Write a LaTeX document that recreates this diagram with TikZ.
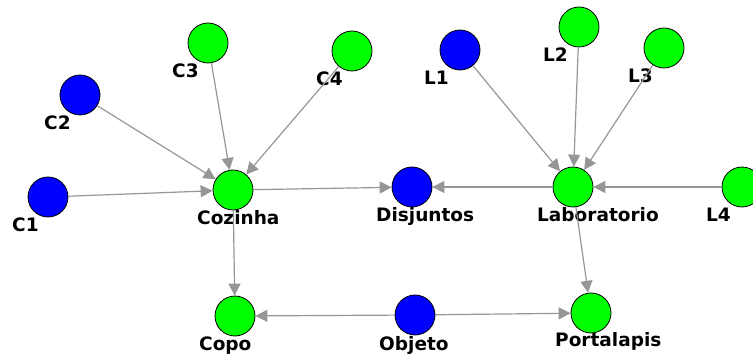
\documentclass[tikz,border=0pt]{standalone}
\usepackage{fontspec}
\setmainfont{DejaVu Sans}
\usetikzlibrary{arrows.meta}
\definecolor{ngreen}{RGB}{0,255,0}
\definecolor{nblue}{RGB}{0,0,255}
\definecolor{edgegray}{RGB}{150,150,150}
\begin{document}
\begin{tikzpicture}[x=1pt,y=-1pt,
  vtx/.style={circle,draw=black,line width=0.8pt,minimum size=40pt,inner sep=0pt},
  gv/.style={vtx,fill=ngreen},
  bv/.style={vtx,fill=nblue},
  lbl/.style={anchor=base west,inner sep=0pt,font=\fontsize{18.5}{22}\selectfont\bfseries},
  edge/.style={draw=edgegray,line width=1.2pt,-{Triangle[length=12pt,width=12pt]}}
]
\useasboundingbox (0,0) rectangle (753,358);
\clip (0,0) rectangle (753,358);
% nodes
\node[bv] (c1) at (48,197) {};
\node[bv] (c2) at (80,95) {};
\node[gv] (c3) at (208,43) {};
\node[gv] (c4) at (352,51) {};
\node[gv] (coz) at (233,190) {};
\node[bv] (dis) at (412,187) {};
\node[gv] (lab) at (573,187) {};
\node[bv] (l1) at (460,50) {};
\node[gv] (l2) at (579,27) {};
\node[gv] (l3) at (664,48) {};
\node[gv] (l4) at (742,187) {};
\node[gv] (copo) at (235,316) {};
\node[bv] (obj) at (415,315) {};
\node[gv] (port) at (591,313) {};
% labels
\node[lbl] (c1l) at ([shift={(-36,35)}]c1.center) {C1};
\node[lbl] (c2l) at ([shift={(-36,35)}]c2.center) {C2};
\node[lbl] (c3l) at ([shift={(-36,35)}]c3.center) {C3};
\node[lbl] (c4l) at ([shift={(-36,35)}]c4.center) {C4};
\node[lbl] (cozl) at ([shift={(-36,35)}]coz.center) {Cozinha};
\node[lbl] (disl) at ([shift={(-36,35)}]dis.center) {Disjuntos};
\node[lbl] (labl) at ([shift={(-36,35)}]lab.center) {Laboratorio};
\node[lbl] (l1l) at ([shift={(-36,35)}]l1.center) {L1};
\node[lbl] (l2l) at ([shift={(-36,35)}]l2.center) {L2};
\node[lbl] (l3l) at ([shift={(-36,35)}]l3.center) {L3};
\node[lbl] (l4l) at ([shift={(-36,35)}]l4.center) {L4};
\node[lbl] (copol) at ([shift={(-36,35)}]copo.center) {Copo};
\node[lbl] (objl) at ([shift={(-36,35)}]obj.center) {Objeto};
\node[lbl] (portl) at ([shift={(-36,34)}]port.center) {Portalapis};
% edges
\draw[edge] (c1) -- (coz);
\draw[edge] (c2) -- (coz);
\draw[edge] (c3) -- (coz);
\draw[edge] (c4) -- (coz);
\draw[edge] (coz) -- (dis);
\draw[edge] (lab) -- (dis);
\draw[edge] (l1) -- (lab);
\draw[edge] (l2) -- (lab);
\draw[edge] (l3) -- (lab);
\draw[edge] (l4) -- (lab);
\draw[edge] (coz) -- (copo);
\draw[edge] (lab) -- (port);
\draw[edge] (obj) -- (copo);
\draw[edge] (obj) -- (port);
\end{tikzpicture}
\end{document}
